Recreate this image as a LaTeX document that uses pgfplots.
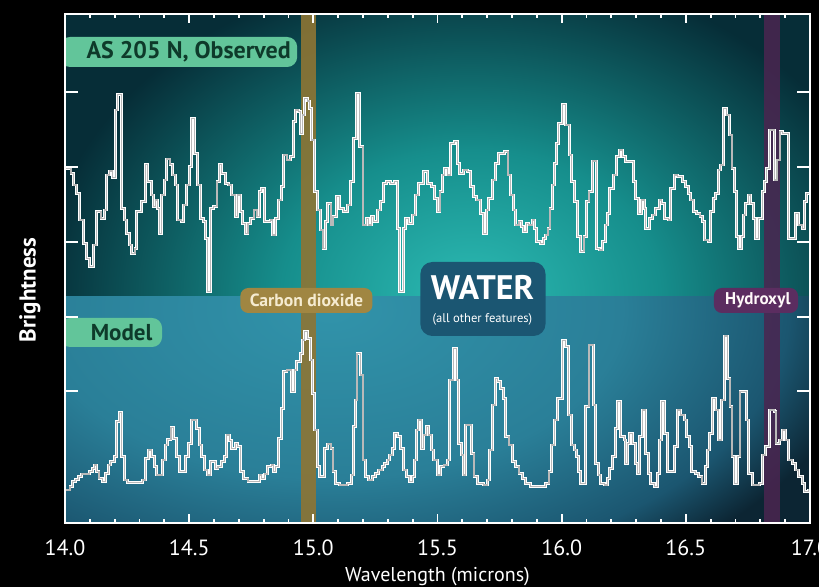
\documentclass[border=0pt]{standalone}
\usepackage{fontspec}
\setmainfont{PT Sans}
\usepackage{pgfplots}
\pgfplotsset{compat=1.18}
\usepackage{pgfplotstable}
\definecolor{topin}{HTML}{2CBAB3}
\definecolor{topmid}{HTML}{168E8C}
\definecolor{topout}{HTML}{062D37}
\definecolor{botin}{HTML}{3193AA}
\definecolor{botmid}{HTML}{2A7F98}
\definecolor{botmidb}{HTML}{1B5670}
\definecolor{botout}{HTML}{0C2533}
\definecolor{co2}{HTML}{8E7534}
\definecolor{co2box}{HTML}{A08642}
\definecolor{co2text}{HTML}{F5EBD0}
\definecolor{ohband}{HTML}{4B2550}
\definecolor{ohbox}{HTML}{5B2D60}
\definecolor{waterbox}{HTML}{1B5672}
\definecolor{labgreen}{HTML}{62C59A}
\definecolor{labtext}{HTML}{0E3A2A}
\pgfdeclareradialshading{topshade}{\pgfpoint{0bp}{0bp}}{color(0bp)=(topin); color(11bp)=(topmid); color(25bp)=(topout); color(50bp)=(topout)}
\pgfdeclareradialshading{botshade}{\pgfpoint{0bp}{0bp}}{color(0bp)=(botin); color(14bp)=(botmid); color(22bp)=(botmidb); color(26bp)=(botout); color(50bp)=(botout)}

\pgfplotstableread{
w b
14.000 354.7
14.024 349.7
14.034 338
14.047 329.7
14.060 303
14.074 279.7
14.087 264.7
14.097 256.3
14.114 278
14.128 311.3
14.145 304.7
14.159 313
14.168 348
14.181 352
14.191 345.3
14.202 413
14.212 428.7
14.226 314.7
14.239 303
14.249 289.7
14.258 278
14.269 269.7
14.282 274.7
14.289 311.3
14.309 321.3
14.323 358.7
14.333 341.3
14.347 328
14.355 316.3
14.363 323
14.371 314.7
14.379 289.7
14.390 328
14.401 343
14.410 364
14.423 358.7
14.433 348
14.444 338
14.452 303
14.468 301.3
14.477 318
14.489 338
14.500 356.3
14.508 404.7
14.522 369.7
14.535 338
14.544 304.7
14.558 301.3
14.567 284.7
14.575 231.3
14.585 314.7
14.598 316.3
14.612 341.3
14.621 358.7
14.632 349.7
14.645 339.7
14.659 338
14.672 328
14.685 306.3
14.696 328
14.706 311.3
14.715 299.7
14.726 289.7
14.737 299.7
14.747 304.7
14.761 313
14.773 306.3
14.782 331.3
14.793 334.7
14.804 301.3
14.827 303
14.836 288
14.847 304.7
14.858 323
14.871 336.3
14.880 368
14.894 363
14.907 366.3
14.921 401.3
14.927 413
14.941 411.3
14.948 389.7
14.957 408
14.965 424.7
14.976 422
14.984 414.7
14.992 383
15.006 331.3
15.018 313
15.028 293
15.039 274.7
15.048 301.3
15.058 319.7
15.071 298
15.079 306.3
15.093 326.3
15.106 314.7
15.122 311.3
15.139 318
15.149 341.3
15.160 384.7
15.173 429.7
15.187 376.3
15.200 298
15.214 304.7
15.223 298
15.233 306.3
15.243 301.3
15.257 313
15.270 321.3
15.281 339.7
15.294 341.3
15.311 339.7
15.327 341.3
15.340 294.7
15.348 231.3
15.362 294.7
15.371 304.7
15.385 299.7
15.398 308
15.411 328
15.425 339.7
15.445 351.3
15.458 339.7
15.475 336.3
15.488 324.7
15.499 311.3
15.510 331.3
15.519 348
15.528 354.7
15.539 348
15.553 379.7
15.569 381.3
15.579 359.7
15.590 349.7
15.606 353
15.620 351.3
15.633 336.3
15.644 326.3
15.657 323
15.673 309.7
15.684 289.7
15.698 313
15.707 324.7
15.721 343
15.734 359.7
15.747 369.7
15.768 371.3
15.784 348
15.794 328
15.805 313
15.815 298
15.828 301.3
15.837 296.3
15.848 291.3
15.859 299.7
15.868 298
15.882 303
15.889 294.7
15.899 281.3
15.915 279.7
15.926 284.7
15.936 288
15.945 294.7
15.953 314.7
15.962 338
15.972 359.7
15.980 379.7
15.989 399.7
16.003 418.7
16.016 398
16.030 368
16.041 341.3
16.050 321.3
16.063 286.3
16.077 271.3
16.090 286.3
16.100 321.3
16.110 331.3
16.124 362
16.140 274.7
16.153 273
16.164 281.3
16.175 298
16.184 309.7
16.194 334.7
16.207 348
16.221 366.3
16.234 373
16.245 366.3
16.258 361.3
16.288 341.3
16.299 324.7
16.309 309.7
16.320 323
16.332 314.7
16.339 294.7
16.352 304.7
16.366 308
16.379 314.7
16.393 323
16.403 319.7
16.413 304.7
16.430 303
16.440 334.7
16.453 348
16.467 346.3
16.487 341.3
16.500 336.3
16.511 329.7
16.520 323
16.530 311.3
16.543 309.7
16.557 306.3
16.567 301.3
16.574 283
16.592 281.3
16.601 311.3
16.610 324.7
16.621 329.7
16.631 353
16.641 358
16.651 414.7
16.664 408
16.675 388
16.686 354.7
16.695 331.3
16.705 286.3
16.713 274.7
16.723 286.3
16.731 308
16.742 319.7
16.753 328
16.762 319.7
16.772 304.7
16.782 284.7
16.793 304.7
16.807 331.3
16.816 341.3
16.825 354.7
16.836 393
16.856 343
16.867 363
16.879 391.3
16.890 389.7
16.914 284.7
16.941 309.7
16.955 298
16.968 294.7
16.977 321.3
16.987 329.7
17.005 329.7
}\observed

\pgfplotstableread{
w b
14.000 33
14.020 36.3
14.030 41.3
14.043 43.7
14.054 46.3
14.065 49
14.097 51.3
14.110 54.7
14.118 58
14.128 51.3
14.137 44.7
14.151 41.3
14.164 49.7
14.175 58
14.185 61.3
14.199 66.3
14.208 101.3
14.218 110.3
14.228 66.3
14.239 43
14.253 40.3
14.312 43
14.323 64.7
14.336 73
14.349 66.3
14.360 56.3
14.370 48
14.392 63
14.403 78
14.414 83.7
14.427 95.7
14.437 84.7
14.450 66.3
14.460 51.3
14.487 66.3
14.497 79.7
14.508 103
14.531 94.7
14.540 78
14.551 66.3
14.562 53
14.575 48
14.585 61.3
14.605 54.7
14.616 56.3
14.629 61.3
14.642 66.3
14.651 88
14.661 82.3
14.672 74.7
14.685 79.7
14.696 76.3
14.706 51.3
14.719 44.7
14.737 41.3
14.782 48
14.793 44.7
14.804 49
14.817 56.3
14.831 58
14.840 51.3
14.849 56.3
14.860 84.7
14.871 114.7
14.880 151.3
14.894 153
14.911 131.3
14.925 153
14.934 161.3
14.948 169.7
14.957 183
14.965 191.3
14.978 184.7
14.988 163
14.997 129.7
15.006 93
15.015 56.3
15.026 46.3
15.044 74.7
15.058 79
15.071 74.7
15.079 51.3
15.089 39.7
15.106 38
15.139 39.7
15.152 48
15.160 96.3
15.169 123
15.176 169.7
15.190 148
15.200 63
15.210 46.3
15.223 43
15.237 46.3
15.250 49.7
15.264 53
15.277 56.3
15.286 59.7
15.297 63
15.308 68
15.317 74.7
15.327 89.7
15.340 86.3
15.351 74.7
15.362 53
15.375 46.3
15.389 41.3
15.398 46.3
15.407 63
15.415 93
15.425 103
15.434 74.7
15.442 88
15.456 96.3
15.465 88
15.475 73
15.485 63
15.499 48
15.512 56.3
15.526 58
15.539 63
15.550 143
15.563 174.7
15.577 143
15.586 79.7
15.596 68
15.604 48
15.613 98
15.636 69.7
15.647 46.3
15.660 39.7
15.687 38
15.700 43
15.711 73
15.721 118
15.734 144.7
15.743 141.3
15.754 134.7
15.765 124.7
15.774 86.3
15.788 78
15.801 61.3
15.815 56.3
15.828 49.7
15.841 44.7
15.855 39.7
15.875 36.3
15.936 39.7
15.949 51.3
15.958 78
15.972 103
15.985 124.7
16.003 182.3
16.016 176.3
16.027 108
16.041 78
16.050 73
16.059 66.3
16.067 51.3
16.077 39.7
16.097 116.3
16.110 178
16.127 118
16.137 59.7
16.148 48
16.157 39.7
16.171 38
16.184 44.7
16.194 54.7
16.204 66.3
16.215 94.7
16.225 121.3
16.238 86.3
16.252 83
16.258 59.7
16.265 79.7
16.274 89.7
16.285 79.7
16.296 59.7
16.305 49.7
16.315 86.3
16.325 113
16.339 69.7
16.350 49.7
16.359 39.7
16.373 36.3
16.386 49.7
16.393 83
16.403 121.3
16.413 89.7
16.426 51.3
16.453 76.3
16.467 113
16.480 108
16.493 103
16.503 86.3
16.514 76.3
16.524 51.3
16.538 49.7
16.551 46.3
16.565 39.7
16.578 56.3
16.588 73
16.597 89.7
16.608 124.7
16.618 113
16.632 83
16.645 123
16.655 187
16.668 144.7
16.678 116.3
16.686 66.3
16.695 39.7
16.709 66.3
16.718 131.3
16.745 103
16.753 49.7
16.769 38
16.796 39.7
16.807 68
16.820 76.3
16.836 113
16.856 111.3
16.863 79.7
16.877 83
16.890 93
16.901 83
16.914 63
16.930 59.7
16.941 53
16.954 46.3
16.968 39.7
16.977 31.3
16.995 33
17.005 33
}\model

\begin{document}
\begin{tikzpicture}
\fill[black, use as bounding box] (-32.5pt,-32pt) rectangle (377pt,261.5pt);
\begin{axis}[
  at={(0,0)}, anchor=south west,
  scale only axis, width=372.5pt, height=254.5pt,
  xmin=14, xmax=17, ymin=0, ymax=509,
  axis on top,
  axis line style={white, line width=1.4pt},
  xtick={14,14.5,...,17}, minor x tick num=4,
  ytick=\empty,
  extra y ticks={132,206,281,356,431}, extra y tick labels={},
  extra y tick style={major tick length=6.5pt},
  tick align=inside, major tick length=4.5pt, minor tick length=2.2pt,
  tick style={white, line width=0.9pt},
  xticklabel style={white, font=\fontsize{11}{12}\selectfont, anchor=center, yshift=-12.5pt},
  /pgf/number format/.cd, fixed, fixed zerofill, precision=1, assume math mode=true, /pgfplots/.cd,
  xlabel={Wavelength (microns)},
  xlabel style={white, font=\fontsize{10}{12}\selectfont, at={(axis description cs:0.5,-0.106)}, anchor=center},
  ylabel={Brightness},
  ylabel style={white, font=\bfseries\fontsize{11.5}{12}\selectfont, at={(axis description cs:-0.047,0.458)}, anchor=center},
]
% backgrounds
\begin{scope}
  \clip (axis cs:14,226) rectangle (axis cs:17,509);
  \shade[shading=topshade] (axis cs:13.899,-102) rectangle (axis cs:17.367,558);
\end{scope}
\begin{scope}
  \clip (axis cs:14,0) rectangle (axis cs:17,226);
  \shade[shading=botshade] (axis cs:12.972,-87) rectangle (axis cs:17.166,513);
\end{scope}
% bands
\fill[co2, opacity=0.9] (axis cs:14.950,0) rectangle (axis cs:15.012,509);
\fill[ohband, opacity=0.85] (axis cs:16.815,0) rectangle (axis cs:16.879,509);

\addplot[const plot, white, line width=0.45pt, double=gray!55, double distance=0.55pt] table[x=w, y=b] {\observed};
\addplot[const plot, white, line width=0.45pt, double=gray!55, double distance=0.55pt] table[x=w, y=b] {\model};

% labels
\fill[labgreen, rounded corners=5pt] (axis cs:13.98,456) rectangle (axis cs:14.935,486);
\node[labtext, font=\bfseries\fontsize{12}{13}\selectfont] at (axis cs:14.498,471) {AS 205 N, Observed};
\fill[labgreen, rounded corners=5pt] (axis cs:13.98,176) rectangle (axis cs:14.391,205);
\node[labtext, font=\bfseries\fontsize{11.5}{13}\selectfont] at (axis cs:14.228,190.5) {Model};

\fill[co2box, rounded corners=4pt] (axis cs:14.706,210) rectangle (axis cs:15.238,235);
\node[co2text, font=\bfseries\fontsize{8.8}{10}\selectfont] at (axis cs:14.972,222.5) {Carbon dioxide};
\fill[ohbox, rounded corners=4pt] (axis cs:16.613,210) rectangle (axis cs:16.952,235);
\node[white!90!pink, font=\bfseries\fontsize{8.5}{10}\selectfont] at (axis cs:16.790,222.5) {Hydroxyl};

\fill[waterbox, rounded corners=6pt] (axis cs:15.431,187) rectangle (axis cs:15.935,261);
\node[white, font=\bfseries\fontsize{17}{18}\selectfont] at (axis cs:15.681,235) {WATER};
\node[white, font=\fontsize{6.3}{7}\selectfont] at (axis cs:15.681,204) {(all other features)};
\end{axis}
\end{tikzpicture}
\end{document}
